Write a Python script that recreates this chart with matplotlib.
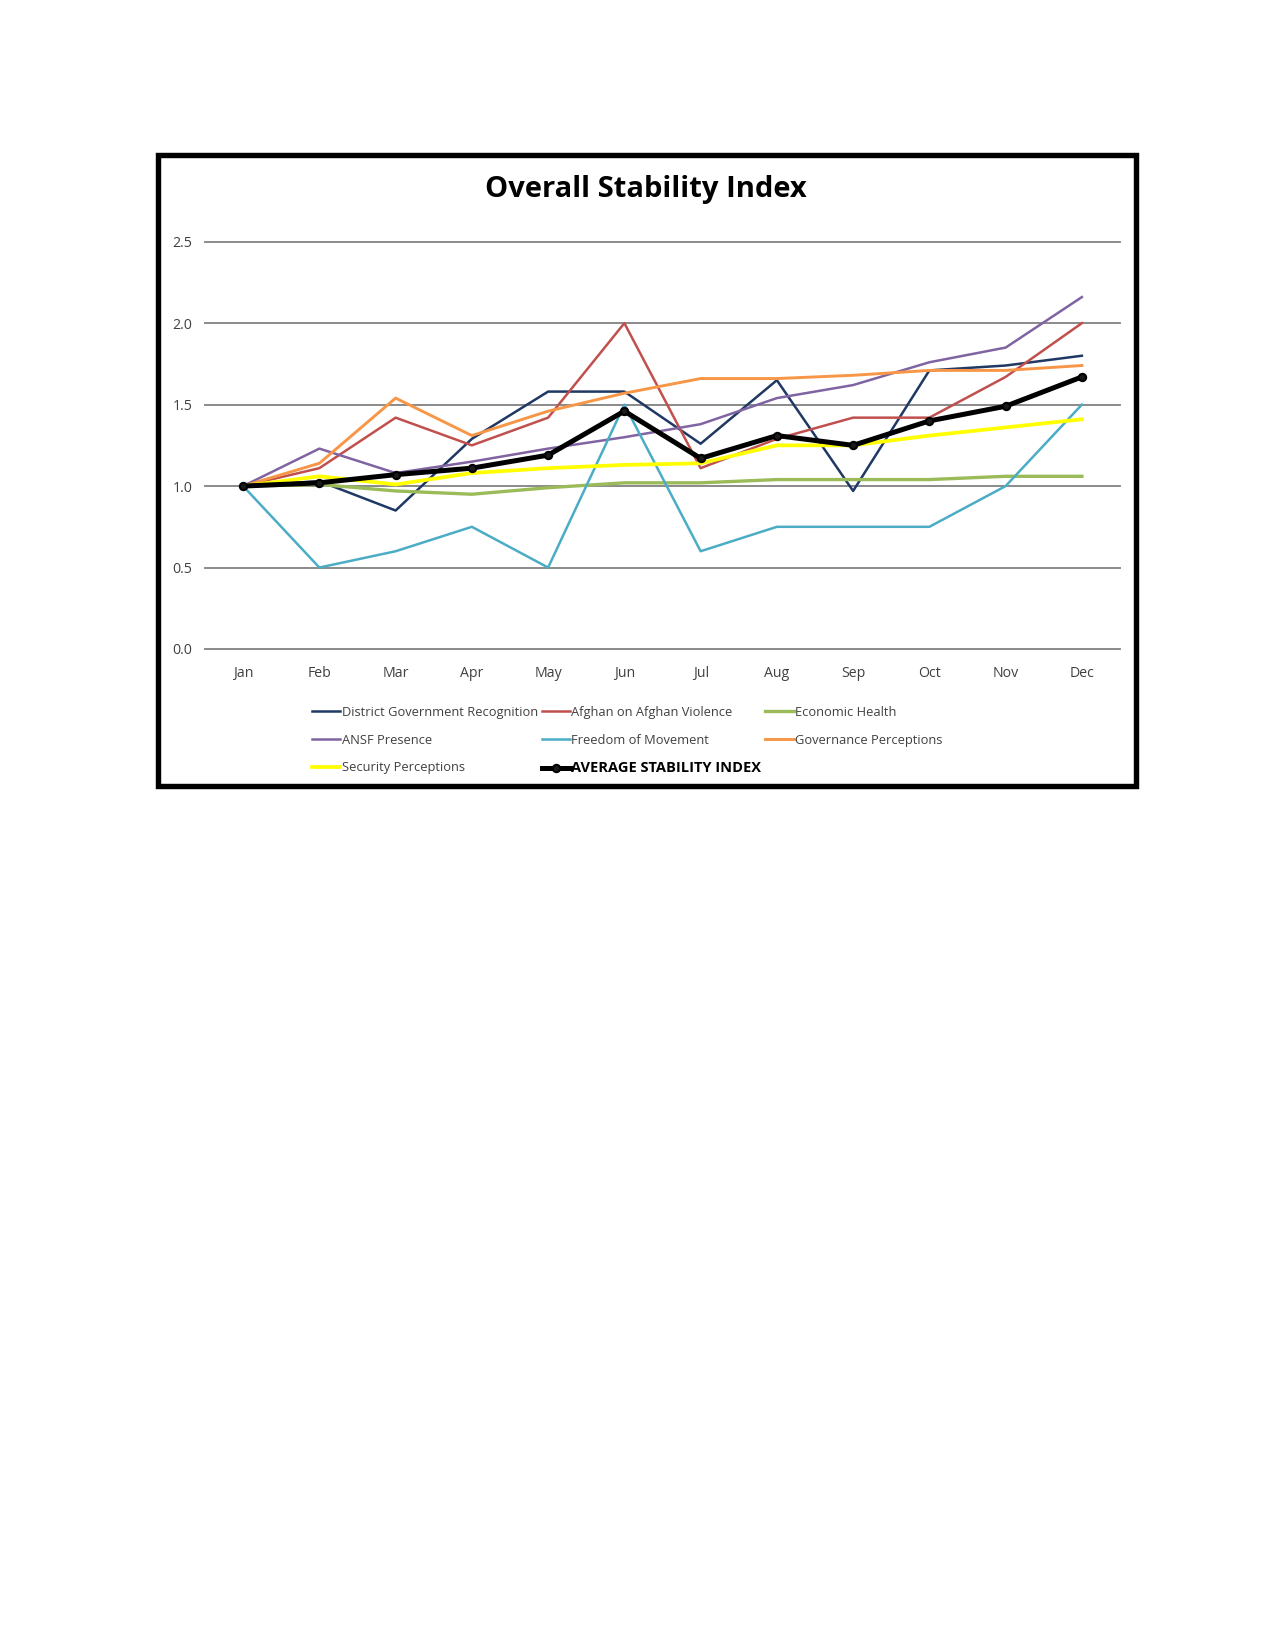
import matplotlib
matplotlib.use('Agg')
import matplotlib.pyplot as plt
from matplotlib.patches import Rectangle

plt.rcParams['font.family'] = ['Liberation Sans Narrow', 'Open Sans', 'DejaVu Sans']

months = ['Jan', 'Feb', 'Mar', 'Apr', 'May', 'Jun', 'Jul', 'Aug', 'Sep', 'Oct', 'Nov', 'Dec']

dist_gov = [1.00, 1.03, 0.85, 1.29, 1.58, 1.58, 1.26, 1.65, 0.97, 1.71, 1.74, 1.80]
afghan_violence = [1.00, 1.11, 1.42, 1.25, 1.42, 2.00, 1.11, 1.29, 1.42, 1.42, 1.67, 2.00]
econ_health = [1.00, 1.01, 0.97, 0.95, 0.99, 1.02, 1.02, 1.04, 1.04, 1.04, 1.06, 1.06]
ansf = [1.00, 1.23, 1.08, 1.15, 1.23, 1.30, 1.38, 1.54, 1.62, 1.76, 1.85, 2.16]
freedom = [1.00, 0.50, 0.60, 0.75, 0.50, 1.50, 0.60, 0.75, 0.75, 0.75, 1.00, 1.50]
gov_perc = [1.00, 1.14, 1.54, 1.31, 1.46, 1.57, 1.66, 1.66, 1.68, 1.71, 1.71, 1.74]
sec_perc = [1.00, 1.06, 1.01, 1.08, 1.11, 1.13, 1.14, 1.25, 1.25, 1.31, 1.36, 1.41]
average = [1.00, 1.02, 1.07, 1.11, 1.19, 1.46, 1.17, 1.31, 1.25, 1.40, 1.49, 1.67]

yticks = [0.0, 0.5, 1.0, 1.5, 2.0, 2.5]

fig = plt.figure(figsize=(8.5, 11), dpi=150)

# black frame round the chart area (pixel coords of the page)
W, H = 1275, 1650
fig.patches.append(Rectangle((157.5 / W, 1 - 785.5 / H), (1135.5 - 157.5) / W, (785.5 - 154.5) / H,
                             transform=fig.transFigure, fill=False, edgecolor='black', linewidth=2.6))

ax = fig.add_axes([205 / W, 1 - 649 / H, (1120 - 205) / W, (649 - 241.7) / H])

x = list(range(len(months)))
h_dgr, = ax.plot(x, dist_gov, color='#1F3864', lw=1.2, label='District Government Recognition')
h_aoa, = ax.plot(x, afghan_violence, color='#C0504D', lw=1.2, label='Afghan on Afghan Violence')
h_eh, = ax.plot(x, econ_health, color='#9BBB59', lw=1.6, label='Economic Health')
h_ansf, = ax.plot(x, ansf, color='#8064A2', lw=1.2, label='ANSF Presence')
h_fom, = ax.plot(x, freedom, color='#4BACC6', lw=1.2, label='Freedom of Movement')
h_gp, = ax.plot(x, gov_perc, color='#F79646', lw=1.4, label='Governance Perceptions')
h_sp, = ax.plot(x, sec_perc, color='#FFFF00', lw=1.8, label='Security Perceptions')
h_avg, = ax.plot(x, average, color='black', lw=2.4, marker='o', markersize=3.5,
                 markerfacecolor='#1a1a1a', label='AVERAGE STABILITY INDEX')

ax.set_xlim(-0.5, 11.5)
ax.set_ylim(0, 2.5)
ax.set_xticks(x)
ax.set_xticklabels(months)
ax.set_yticks(yticks)
ax.set_yticklabels(['%.1f' % v for v in yticks])
ax.tick_params(length=0, labelsize=6.8, labelcolor='#404040')
ax.tick_params(axis='x', pad=8)
ax.tick_params(axis='y', pad=6)
for s in ax.spines.values():
    s.set_visible(False)
ax.yaxis.grid(True, color='#868686', lw=0.9)
ax.set_axisbelow(True)
for gl in ax.get_ygridlines():
    gl.set_clip_on(False)

fig.text(646 / W, 1 - 189 / H, 'Overall Stability Index', ha='center', va='center',
         fontsize=14, fontweight='bold')

# Excel fills the legend row by row, matplotlib column by column
handles = [h_dgr, h_ansf, h_sp, h_aoa, h_fom, h_avg, h_eh, h_gp]
leg = fig.legend(handles=handles, labels=[h.get_label() for h in handles], ncol=3,
                 loc='upper left', bbox_to_anchor=(312 / W, 1 - 706 / H), frameon=False,
                 fontsize=6.2, handlelength=2.2, handletextpad=0.1, columnspacing=0.3,
                 labelspacing=1.14, borderaxespad=0, borderpad=0)
for t in leg.get_texts():
    t.set_color('#404040')
    if t.get_text().startswith('AVERAGE'):
        t.set_fontweight('bold')
        t.set_fontsize(7)
        t.set_color('black')

fig.savefig('out.png', dpi=150)
